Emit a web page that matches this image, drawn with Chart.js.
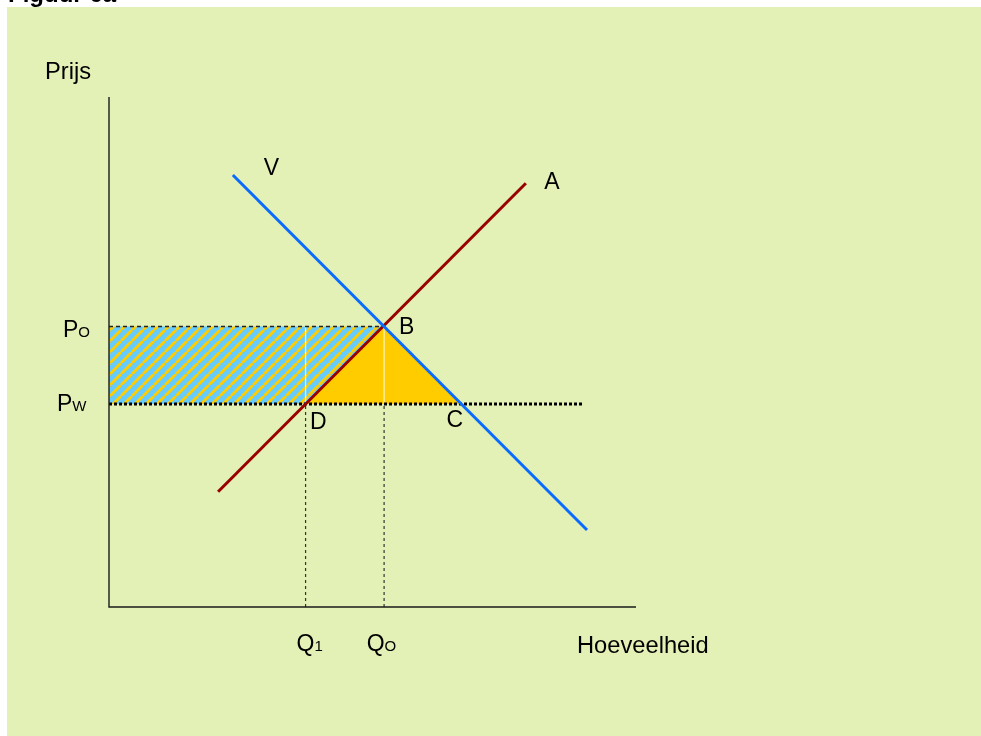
<!DOCTYPE html>
<html>
<head>
<meta charset="utf-8">
<title>Figuur 6a</title>
<script src="https://cdn.jsdelivr.net/npm/chart.js@4.4.1/dist/chart.umd.min.js"></script>
<style>
    body { margin: 0; background: #fff; }
    #wrap { width: 981px; height: 736px; }
</style>
</head>
<body>
<div id="wrap"><canvas id="chart" width="981" height="736"></canvas></div>
<script>
// Data (axis units 0..100)
const supplyX = [20.7, 79.1];      // aanbod A
const supplyY = [22.6, 83.1];
const demandX = [23.5, 90.7];      // vraag V
const demandY = [84.7, 15.1];
const quantities = [37.3, 52.2, 66.8];   // Q1, QO, punt C
const prices = [55.0, 39.8];             // PO, PW
const worldPriceEnd = 89.9;
const axisRange = [0, 100];
const priceTicks = [['P', 'O'], ['P', 'W']];
const quantityTicks = [['Q', '1'], ['Q', 'O']];
const axisTitles = ['Prijs', 'Hoeveelheid'];

const [q1, q0, qc] = quantities;
const [po, pw] = prices;

function pts(xs, ys) {
    return xs.map((x, i) => ({ x: x, y: ys[i] }));
}

function hatchPattern() {
    const c = document.createElement('canvas');
    c.width = 11;
    c.height = 11;
    const g = c.getContext('2d');
    g.fillStyle = '#66ccff';
    g.fillRect(0, 0, 11, 11);
    g.strokeStyle = '#ffcc00';
    g.lineWidth = 2.9;
    for (const k of [-11, 0, 11]) {
        g.beginPath();
        g.moveTo(k, 11);
        g.lineTo(k + 11, 0);
        g.stroke();
    }
    return g.createPattern(c, 'repeat');
}

function lineSet(data, color, width, dash, order) {
    return {
        data: data,
        borderColor: color,
        borderWidth: width,
        borderDash: dash || [],
        pointRadius: 0,
        tension: 0,
        fill: false,
        clip: false,
        order: order
    };
}

function shapeSet(data, bg, order) {
    return {
        data: data,
        borderColor: 'transparent',
        borderWidth: 0,
        backgroundColor: bg,
        pointRadius: 0,
        tension: 0,
        fill: 'shape',
        order: order
    };
}

const FONT = '"Liberation Sans", Arial, sans-serif';

function drawSub(ctx, main, sub, x, y) {
    ctx.font = '23px ' + FONT;
    ctx.fillText(main, x, y);
    const w = ctx.measureText(main).width;
    ctx.font = '15px ' + FONT;
    ctx.fillText(sub, x + w, y);
}

const backgroundPlugin = {
    id: 'background',
    beforeDraw(chart) {
        const ctx = chart.ctx;
        ctx.save();
        ctx.fillStyle = '#ffffff';
        ctx.fillRect(0, 0, chart.width, chart.height);
        ctx.fillStyle = '#e3f0b6';
        ctx.fillRect(7, 7, chart.width - 7, chart.height - 7);
        ctx.fillStyle = '#000';
        ctx.font = 'bold 24px ' + FONT;
        ctx.textBaseline = 'alphabetic';
        ctx.fillText('Figuur 6a', 8, 2);
        ctx.restore();
    }
};

const labelPlugin = {
    id: 'labels',
    afterDraw(chart) {
        const ctx = chart.ctx;
        const x = chart.scales.x;
        const y = chart.scales.y;
        const area = chart.chartArea;
        ctx.save();
        ctx.fillStyle = '#000';
        ctx.textBaseline = 'alphabetic';
        ctx.textAlign = 'left';
        ctx.font = '23.7px ' + FONT;
        ctx.fillText(axisTitles[0], area.left - 64, area.top - 18);
        ctx.fillText(axisTitles[1], x.getPixelForValue(axisRange[1]) - 59, area.bottom + 46);

        drawSub(ctx, priceTicks[0][0], priceTicks[0][1], area.left - 46, y.getPixelForValue(po) + 10.5);
        drawSub(ctx, priceTicks[1][0], priceTicks[1][1], area.left - 52, y.getPixelForValue(pw) + 6.7);
        drawSub(ctx, quantityTicks[0][0], quantityTicks[0][1], x.getPixelForValue(q1) - 9, area.bottom + 44);
        drawSub(ctx, quantityTicks[1][0], quantityTicks[1][1], x.getPixelForValue(q0) - 17.4, area.bottom + 44);

        ctx.font = '23px ' + FONT;
        ctx.fillText('V', x.getPixelForValue(demandX[0]) + 31, y.getPixelForValue(demandY[0]));
        ctx.fillText('A', x.getPixelForValue(supplyX[1]) + 18.5, y.getPixelForValue(supplyY[1]) + 6.3);
        ctx.fillText('B', x.getPixelForValue(q0) + 15, y.getPixelForValue(po) + 7.5);
        ctx.fillText('C', x.getPixelForValue(qc) - 14.5, y.getPixelForValue(pw) + 22.5);
        ctx.fillText('D', x.getPixelForValue(q1) + 4.5, y.getPixelForValue(pw) + 25);
        ctx.restore();
    }
};

function renderChart() {
    const ctx = document.getElementById('chart');
    const gap = 'rgba(255, 255, 235, 0.75)';

    new Chart(ctx, {
        type: 'line',
        data: {
            datasets: [
                lineSet([{ x: q1, y: 0 }, { x: q1, y: pw }], '#333', 1.2, [3, 3], 12),
                lineSet([{ x: q0, y: 0 }, { x: q0, y: po }], '#333', 1.2, [3, 3], 12),
                shapeSet([{ x: 0, y: po }, { x: q0, y: po }, { x: q1, y: pw }, { x: 0, y: pw }], hatchPattern(), 10),
                shapeSet([{ x: q1, y: pw }, { x: q0, y: po }, { x: qc, y: pw }], '#ffcc00', 9),
                lineSet([{ x: q1, y: pw }, { x: q1, y: po }], gap, 1.3, [], 8),
                lineSet([{ x: q0, y: pw }, { x: q0, y: po }], gap, 1.3, [], 8),
                lineSet([{ x: 0, y: po }, { x: q0, y: po }], '#222', 1.3, [4, 3], 7),
                lineSet([{ x: 0, y: pw }, { x: worldPriceEnd, y: pw }], '#000', 3, [3, 2], 6),
                lineSet([{ x: 0, y: axisRange[1] }, { x: 0, y: 0 }, { x: axisRange[1], y: 0 }], '#1a1a1a', 1.4, [], 5),
                lineSet(pts(supplyX, supplyY), '#990000', 3, [], 3),
                lineSet(pts(demandX, demandY), '#0a6cff', 3, [], 2)
            ]
        },
        options: {
            responsive: false,
            animation: false,
            layout: { padding: { left: 109, right: 345, top: 97, bottom: 129 } },
            plugins: {
                legend: { display: false },
                tooltip: { enabled: false }
            },
            scales: {
                x: { type: 'linear', min: axisRange[0], max: axisRange[1], display: false },
                y: { type: 'linear', min: axisRange[0], max: axisRange[1], display: false }
            }
        },
        plugins: [backgroundPlugin, labelPlugin]
    });
}

renderChart();
</script>
</body>
</html>
